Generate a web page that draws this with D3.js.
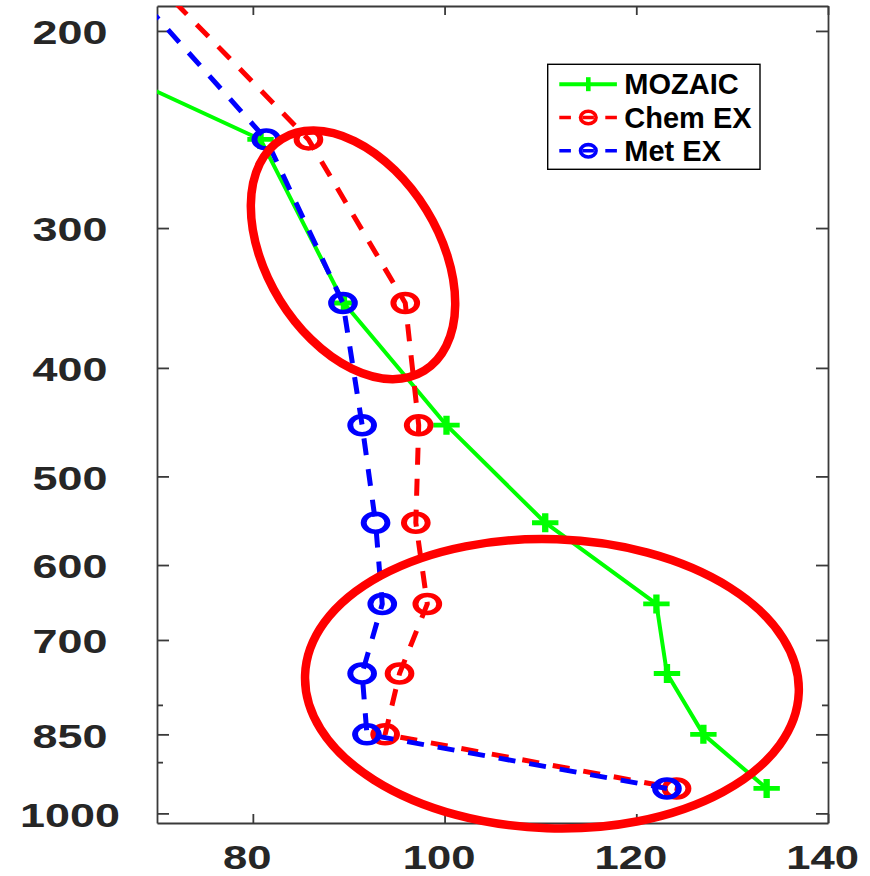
<!DOCTYPE html>
<html>
<head>
<meta charset="utf-8">
<script src="https://cdn.jsdelivr.net/npm/d3@7"></script>
<style>
  html, body { margin: 0; padding: 0; background: #fff; }
  svg { display: block; font-family: "Liberation Sans", Arial, Helvetica, sans-serif; font-weight: bold; }
</style>
</head>
<body>
<script>
// Pressure levels (hPa) of the vertical profiles
const pressure = [150, 250, 350, 450, 550, 650, 750, 850, 950];

// Mean profile values per level
const mozaic = [24.7, 80.8, 89.5, 100.2, 110.5, 122.1, 123.2, 127.0, 133.6];
const chemEx = [60.6, 85.8, 95.9, 97.3, 97.0, 98.2, 95.3, 93.8, 124.2];
const metEx  = [58.2, 81.4, 89.4, 91.4, 92.8, 93.5, 91.4, 91.9, 123.2];

const seriesNames = ["MOZAIC", "Chem EX", "Met EX"];

// Axis ticks
const xTicks = [80, 100, 120, 140];
const yTicks = [200, 300, 400, 500, 600, 700, 850, 1000];
const yTickLabels = ["200", "300", "400", "500", "600", "700", "850", "1000"];
const yMinorTicks = [800, 900];

// Centres of the highlighted regions (value, hPa)
const highlightValue = [90.45, 111.2];
const highlightPressure = [317, 766];

// ---------------------------------------------------------------
const W = 870, H = 876;
const plot = { left: 157, right: 828, top: 6, bottom: 823 };
const SX = 1.32;               // horizontal stretch of glyphs and markers
const axisColor = "#3a3a3a";
const labelColor = "#262626";

const x = d3.scaleLinear().domain([70, 140]).range([plot.left, plot.right]);
const y = d3.scaleLog().domain([190, 1020]).range([plot.top, plot.bottom]);

const svg = d3.select("body").append("svg")
  .attr("width", W).attr("height", H);

svg.append("rect").attr("width", W).attr("height", H).attr("fill", "#fff");

svg.append("defs").append("clipPath").attr("id", "plot-clip")
  .append("rect")
  .attr("x", plot.left).attr("y", plot.top)
  .attr("width", plot.right - plot.left).attr("height", plot.bottom - plot.top);

// ---- axes (box with inward ticks on all four sides) ----
function styleAxis(g) {
  g.select(".domain").attr("stroke", axisColor).attr("stroke-width", 1.8);
  g.selectAll(".tick line").attr("stroke", axisColor).attr("stroke-width", 1.8);
}
// widen tick labels horizontally
function widen(sel) {
  sel.each(function () {
    const w = this.getComputedTextLength();
    if (w > 0) d3.select(this).attr("textLength", w * SX).attr("lengthAdjust", "spacingAndGlyphs");
  });
}

const leftAxis = svg.append("g")
  .attr("transform", `translate(${plot.left},0)`)
  .call(d3.axisLeft(y).tickValues(yTicks).tickSizeInner(-12).tickSizeOuter(0)
        .tickFormat((d, i) => yTickLabels[i]));
styleAxis(leftAxis);
leftAxis.selectAll(".tick text")
  .attr("x", 70 - plot.left).attr("y", 1).attr("dy", "0.35em")
  .attr("text-anchor", "middle")
  .attr("fill", labelColor)
  .style("font-size", "34px")
  .call(widen);

const rightAxis = svg.append("g")
  .attr("transform", `translate(${plot.right},0)`)
  .call(d3.axisRight(y).tickValues(yTicks).tickSizeInner(-12).tickSizeOuter(0).tickFormat(""));
styleAxis(rightAxis);

// minor log ticks on both vertical sides
[[plot.left, d3.axisLeft], [plot.right, d3.axisRight]].forEach(([px, ax]) => {
  const g = svg.append("g")
    .attr("transform", `translate(${px},0)`)
    .call(ax(y).tickValues(yMinorTicks).tickSizeInner(-6).tickSizeOuter(0).tickFormat(""));
  g.select(".domain").remove();
  g.selectAll(".tick line").attr("stroke", axisColor).attr("stroke-width", 1.8);
});

const bottomAxis = svg.append("g")
  .attr("transform", `translate(0,${plot.bottom})`)
  .call(d3.axisBottom(x).tickValues(xTicks).tickSizeInner(-9).tickSizeOuter(0)
        .tickFormat(d3.format("d")));
styleAxis(bottomAxis);
bottomAxis.selectAll(".tick text")
  .attr("x", -6).attr("y", 34).attr("dy", "0.35em")
  .attr("text-anchor", "middle")
  .attr("fill", labelColor)
  .style("font-size", "33px")
  .call(widen);

const topAxis = svg.append("g")
  .attr("transform", `translate(0,${plot.top})`)
  .call(d3.axisTop(x).tickValues(xTicks).tickSizeInner(-9).tickSizeOuter(0).tickFormat(""));
styleAxis(topAxis);

// ---- profiles ----
const series = [
  { name: seriesNames[0], values: mozaic, color: "#00ff00", dash: null,    marker: "plus",   width: 4 },
  { name: seriesNames[1], values: chemEx, color: "#ff0000", dash: "17 14", marker: "circle", width: 5 },
  { name: seriesNames[2], values: metEx,  color: "#0000ff", dash: "17 14", marker: "circle", width: 5 }
];

const line = d3.line().x(d => x(d.v)).y(d => y(d.p));
const dataLayer = svg.append("g").attr("clip-path", "url(#plot-clip)");

function drawMarker(sel, type, color, cx, cy) {
  const g = sel.append("g").attr("transform", `translate(${cx},${cy}) scale(${SX},1)`);
  if (type === "circle") {
    g.append("circle").attr("r", 9).attr("fill", "none")
      .attr("stroke", color).attr("stroke-width", 4.5);
  } else {
    g.append("path").attr("d", "M-10,0H10M0,-9.5V9.5")
      .attr("fill", "none").attr("stroke", color).attr("stroke-width", 4.8);
  }
}

series.forEach(s => {
  const pts = pressure.map((p, i) => ({ p, v: s.values[i] }));
  const path = dataLayer.append("path")
    .datum(pts)
    .attr("d", line)
    .attr("fill", "none")
    .attr("stroke", s.color)
    .attr("stroke-width", s.width)
    .attr("stroke-linejoin", "round");
  if (s.dash) path.attr("stroke-dasharray", s.dash);
  pts.forEach(d => drawMarker(dataLayer, s.marker, s.color, x(d.v), y(d.p)));
});

// ---- highlighted regions ----
const highlightShape = [
  { rx: 136, ry: 86, angle: 58.4 },
  { rx: 247, ry: 144.5, angle: 2 }
];
highlightValue.forEach((v, i) => {
  const sh = highlightShape[i];
  svg.append("ellipse")
    .attr("transform", `translate(${x(v)},${y(highlightPressure[i])}) rotate(${sh.angle})`)
    .attr("rx", sh.rx).attr("ry", sh.ry)
    .attr("fill", "none").attr("stroke", "#ff0000").attr("stroke-width", 8.5);
});

// ---- legend ----
const legend = svg.append("g");
legend.append("rect")
  .attr("x", 547.7).attr("y", 64.3).attr("width", 212.3).attr("height", 105)
  .attr("fill", "#fff").attr("stroke", "#000").attr("stroke-width", 1.4);

series.forEach((s, i) => {
  const cy = 84.2 + i * 33.3;
  const ln = legend.append("line")
    .attr("x1", 559.3).attr("x2", 616.9).attr("y1", cy).attr("y2", cy)
    .attr("stroke", s.color).attr("stroke-width", s.dash ? 3.6 : 4);
  if (s.dash) ln.attr("stroke-dasharray", "11.6 11.4");
  if (s.marker === "circle") {
    legend.append("ellipse").attr("cx", 588.3).attr("cy", cy)
      .attr("rx", 7.8).attr("ry", 6.2)
      .attr("fill", "none").attr("stroke", s.color).attr("stroke-width", 3.6);
  } else {
    legend.append("path").attr("d", `M588.3,${cy - 7}V${cy + 7}`)
      .attr("stroke", s.color).attr("stroke-width", 4.6);
  }
  legend.append("text")
    .attr("x", 624.3).attr("y", cy + 10.2)
    .attr("fill", "#000")
    .style("font-size", "29px")
    .text(s.name);
});
</script>
</body>
</html>
